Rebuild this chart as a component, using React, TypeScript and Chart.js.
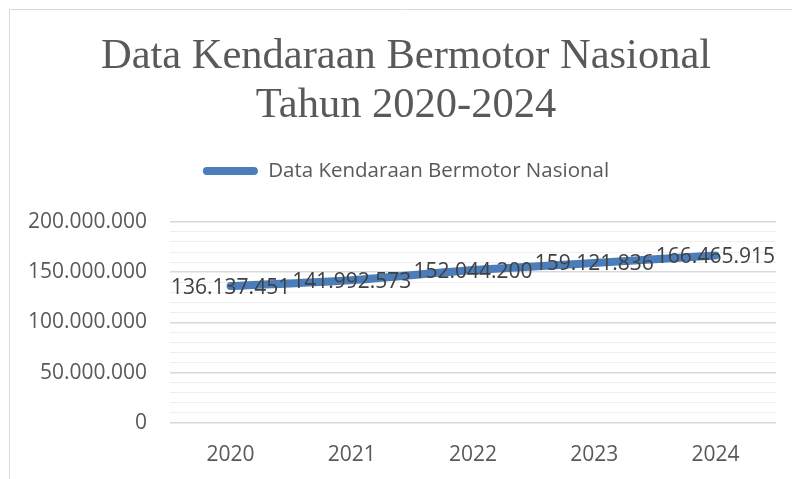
import React, { useEffect, useRef } from "react";
import { Chart, registerables } from "chart.js";

Chart.register(...registerables);

const titleLines = ["Data Kendaraan Bermotor Nasional", "Tahun 2020-2024"];
const seriesName = "Data Kendaraan Bermotor Nasional";
const years = ["2020", "2021", "2022", "2023", "2024"];
const vehicles = [136137451, 141992573, 152044200, 159121836, 166465915];
const yMin = 0;
const yMax = 200000000;
const yMinorStep = 10000000;
const yMajorStep = 50000000;

const lineColor = "#4a7dba";
const textGray = "#595959";
const labelDark = "#404040";

const fmt = (v: number) => String(Math.round(v)).replace(/\B(?=(\d{3})+(?!\d))/g, ".");

const frame = {
  id: "frame",
  afterLayout(chart: any) {
    // let the y tick labels extend left of the layout padding without clipping
    if (chart.scales.y) chart.scales.y.left = 0;
  },
  beforeDraw(chart: any) {
    const c = chart.ctx;
    c.save();
    c.fillStyle = "#ffffff";
    c.fillRect(0, 0, chart.width, chart.height);
    c.strokeStyle = "#d9d9d9";
    c.lineWidth = 1;
    c.beginPath();
    c.moveTo(9.5, chart.height);
    c.lineTo(9.5, 9.5);
    c.lineTo(chart.width, 9.5);
    c.stroke();
    c.restore();
  },
};

const dataLabels = {
  id: "dataLabels",
  afterDatasetsDraw(chart: any) {
    const c = chart.ctx;
    const meta = chart.getDatasetMeta(0);
    c.save();
    c.font = "21px 'Open Sans'";
    c.fillStyle = labelDark;
    c.textAlign = "center";
    c.textBaseline = "middle";
    meta.data.forEach((pt: any, i: number) => {
      c.fillText(fmt(chart.data.datasets[0].data[i]), pt.x, pt.y + 1.5);
    });
    c.restore();
  },
};

export default function App() {
  const ref = useRef<HTMLCanvasElement | null>(null);
  useEffect(() => {
    if (!ref.current) return;
    const chart = new Chart(ref.current, {
      type: "line",
      data: {
        labels: years,
        datasets: [
          {
            label: seriesName,
            data: vehicles,
            borderColor: lineColor,
            backgroundColor: lineColor,
            borderWidth: 8,
            borderCapStyle: "round",
            borderJoinStyle: "round",
            tension: 0.25,
            pointRadius: 0,
            pointHoverRadius: 0,
            fill: false,
          },
        ],
      },
      options: {
        responsive: false,
        animation: false,
        layout: { padding: { left: 36, right: 16, top: 0, bottom: -8 } },
        plugins: {
          tooltip: { enabled: false },
          title: {
            display: true,
            text: titleLines,
            color: textGray,
            font: { family: "'Liberation Serif', 'Times New Roman', serif", size: 42.5, weight: "normal", lineHeight: 1.157 },
            padding: { top: 32, bottom: -11.6 },
          },
          subtitle: {
            display: true,
            text: "",
            font: { size: 10, lineHeight: 1 },
            padding: { top: 20.6, bottom: 0 },
          },
          legend: {
            display: true,
            position: "top",
            weight: 1600,
            labels: {
              boxWidth: 55,
              boxHeight: 8,
              padding: 42,
              useBorderRadius: true,
              borderRadius: 4,
              color: textGray,
              font: { family: "'Open Sans'", size: 20.5 },
              generateLabels: () => [
                {
                  text: seriesName,
                  fillStyle: lineColor,
                  strokeStyle: lineColor,
                  lineWidth: 0,
                  borderRadius: 4,
                  hidden: false,
                  datasetIndex: 0,
                  fontColor: textGray,
                } as any,
              ],
            },
          } as any,
        },
        scales: {
          x: {
            offset: true,
            grid: { display: false, drawTicks: false },
            border: { display: false },
            ticks: { color: textGray, font: { family: "'Open Sans'", size: 21 }, padding: 19.4 },
          },
          y: {
            min: yMin,
            max: yMax,
            afterFit: (s: any) => {
              s.width = 134;
            },
            border: { display: false },
            grid: {
              drawTicks: false,
              color: (ctx: any) =>
                ctx.tick && ctx.tick.value % yMajorStep === 0 ? "#d9d9d9" : "#eeeeee",
              lineWidth: (ctx: any) =>
                ctx.tick && ctx.tick.value % yMajorStep === 0 ? 1.5 : 1,
            },
            ticks: {
              stepSize: yMinorStep,
              autoSkip: false,
              padding: 23,
              color: textGray,
              font: { family: "'Open Sans'", size: 21 },
              callback: (v: any) => (Number(v) % yMajorStep === 0 ? fmt(Number(v)) : ""),
            },
          },
        },
      },
      plugins: [frame, dataLabels],
    });
    return () => chart.destroy();
  }, []);
  return (
    <div style={{ position: "absolute", left: 0, top: 0, width: 792, height: 479 }}>
      <canvas ref={ref} width={792} height={479} />
    </div>
  );
}
